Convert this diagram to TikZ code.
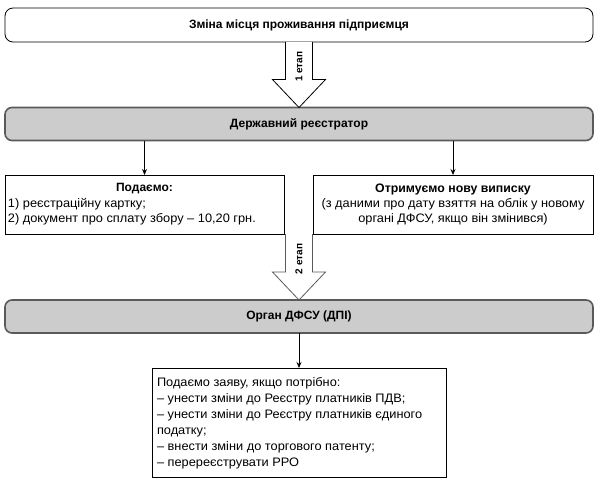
\documentclass[tikz,border=0pt]{standalone}
\usepackage{fontspec}
\setmainfont{Liberation Sans}[UprightFeatures={FakeStretch=1.04}, BoldFeatures={FakeStretch=1.0}]
\usetikzlibrary{calc,arrows.meta}
\definecolor{boxgray}{HTML}{CCCCCC}
\definecolor{edgegray}{HTML}{5A5A5A}
\begin{document}
\begin{tikzpicture}[x=1pt,y=-1pt,
  every node/.style={inner sep=0pt, outer sep=0pt},
  titlebox/.style={draw=black, line width=0.8pt, rounded corners=8pt, fill=white,
    minimum width=588pt, minimum height=34pt, font=\bfseries\fontsize{12}{15}\selectfont},
  graybox/.style={draw=edgegray, line width=1.6pt, rounded corners=7pt, fill=boxgray,
    minimum width=588pt, minimum height=33pt, font=\bfseries\fontsize{12}{15}\selectfont},
  plainbox/.style={draw=black, line width=0.8pt, fill=white, font=\fontsize{12.3}{15}\selectfont},
  link/.style={-{Stealth[length=6pt,width=5pt]}, line width=0.8pt},
  blockarrow/.style={draw=black, fill=white, line width=0.8pt, line join=miter},
  steplabel/.style={rotate=90, font=\bfseries\fontsize{10}{10}\selectfont}
]
\useasboundingbox (0,0) rectangle (598,483);

\node[titlebox] (top) at (299,25) {Зміна місця проживання підприємця};
\node[graybox] (reg) at (299,124) {Державний реєстратор};

\node[plainbox, minimum width=279pt, minimum height=59pt] (left) at (144.5,204.5) {};
\node[font=\bfseries\fontsize{12}{15}\selectfont] (leftt) at (144.5,189) {Подаємо:};
\node[plainbox, draw=none, fill=none, align=left, anchor=west] (leftb) at (8,211.5)
  {1) реєстраційну картку;\\2) документ про сплату збору – 10,20 грн.};

\node[plainbox, minimum width=280pt, minimum height=59pt, align=center] (right) at (453,204.5)
  {\textbf{Отримуємо нову виписку}\\(з даними про дату взяття на облік у новому\\органі ДФСУ, якщо він змінився)};

\node[graybox] (dfsu) at (299,316.5) {Орган ДФСУ (ДПІ)};

\node[plainbox, minimum width=294pt, minimum height=109pt] (bot) at (299,422.5) {};
\node[align=left, anchor=west, font=\fontsize{12.3}{16}\selectfont] (bott) at (157,423)
  {Подаємо заяву, якщо потрібно:\\
   – унести зміни до Реєстру платників ПДВ;\\
   – унести зміни до Реєстру платників єдиного\\
   податку;\\
   – внести зміни до торгового патенту;\\
   – перереєструвати РРО};

% block arrows
\draw[blockarrow] ($(top.south)+(-13.5,0)$) -- ($(reg.north)+(-13.5,-28)$) -- ++(-13,0)
  -- (reg.north) -- ($(reg.north)+(26.5,-28)$) -- ++(-13,0) -- ($(top.south)+(13.5,0)$);
\node[steplabel] (l1) at ($(top.south)!0.5!(reg.north)+(0,-8)$) {1 етап};

\draw[blockarrow, draw=edgegray] ($(top.south|-left.south)+(-13.5,0)$) -- ($(dfsu.north)+(-13.5,-28)$) -- ++(-13,0)
  -- (dfsu.north) -- ($(dfsu.north)+(26.5,-28)$) -- ++(-13,0) -- ($(top.south|-left.south)+(13.5,0)$);
\node[steplabel] (l2) at ($(top.south|-left.south)!0.5!(dfsu.north)+(0,-8)$) {2 етап};

% connectors
\draw[link] (reg.south -| left.north) -- (left.north);
\draw[link] (reg.south -| right.north) -- (right.north);
\draw[link] (dfsu.south) -- (bot.north);
\end{tikzpicture}
\end{document}
